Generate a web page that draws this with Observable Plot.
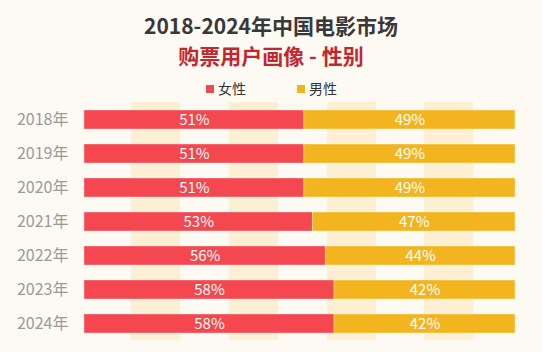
<!DOCTYPE html>
<html>
<head>
<meta charset="utf-8">
<script src="https://cdn.jsdelivr.net/npm/d3@7"></script>
<script src="https://cdn.jsdelivr.net/npm/@observablehq/plot@0.6"></script>
<style>
  html, body { margin: 0; padding: 0; background: #fdfaf3; }
  #wrap { width: 542px; height: 352px; position: relative; font-family: "Noto Sans CJK SC", "Noto Sans", sans-serif; overflow: hidden; }
  #header { height: 96px; position: relative; }
  .title { position: absolute; left: 0; width: 542px; text-align: center; top: 10px; font-size: 21px; font-weight: bold; color: #383838; line-height: 30px; }
  .subtitle { position: absolute; left: 0; width: 542px; text-align: center; top: 40px; font-size: 21px; font-weight: bold; color: #c3272d; line-height: 30px; }
  .legend { position: absolute; top: 78px; left: 0; width: 542px; font-size: 14px; color: #333; line-height: 20px; }
  .legend span.item { position: absolute; top: 0; }
  .legend i { display: inline-block; width: 8px; height: 8px; margin-right: 4px; vertical-align: 1px; }
  svg { display: block; }
</style>
</head>
<body>
<div id="wrap">
  <div id="header">
    <div class="title">2018-2024年中国电影市场</div>
    <div class="subtitle">购票用户画像 - 性别</div>
    <div class="legend" id="legend"></div>
  </div>
  <div id="chart"></div>
</div>
<script>
const years = ["2018年", "2019年", "2020年", "2021年", "2022年", "2023年", "2024年"];
const female = [51, 51, 51, 53, 56, 58, 58];
const male = [49, 49, 49, 47, 44, 42, 42];
const seriesNames = ["女性", "男性"];
const seriesColors = ["#f5474f", "#f2b51f"];
const bandStarts = [10.9, 33.6, 56.4, 78.9];
const bandEnds = [22.3, 45.0, 67.7, 90.3];

const data = [];
years.forEach((y, i) => {
  data.push({year: y, sex: seriesNames[0], value: female[i]});
  data.push({year: y, sex: seriesNames[1], value: male[i]});
});
const bands = bandStarts.map((s, i) => ({x1: s, x2: bandEnds[i]}));

// legend
const legend = document.getElementById("legend");
const legendX = [206, 297];
seriesNames.forEach((n, i) => {
  const s = document.createElement("span");
  s.className = "item";
  s.style.left = legendX[i] + "px";
  s.innerHTML = `<i style="background:${seriesColors[i]}"></i>${n}`;
  legend.appendChild(s);
});

const chart = Plot.plot({
  width: 542,
  height: 256,
  marginTop: 6,
  marginBottom: 12,
  marginLeft: 84,
  marginRight: 27,
  style: {background: "transparent", fontFamily: "'Noto Sans CJK SC', sans-serif"},
  x: {domain: [0, 100], axis: null},
  y: {domain: years, paddingInner: 0.45, paddingOuter: 0.19, label: null},
  color: {domain: seriesNames, range: seriesColors},
  marks: [
    Plot.rect(bands, {x1: "x1", x2: "x2", fill: "#fdefd3"}),
    Plot.barX(data, Plot.stackX({x: "value", y: "year", fill: "sex", order: seriesNames, stroke: "#ffffff", strokeOpacity: 0.35, strokeWidth: 1})),
    Plot.text(data, Plot.stackX({x: "value", y: "year", z: "sex", order: seriesNames, text: d => d.value + "%", fill: "#ffffff", fontSize: 15})),
    Plot.axisY({tickSize: 0, tickPadding: 16, fontSize: 16, color: "#9a9a9a", label: null})
  ]
});
document.getElementById("chart").appendChild(chart);
</script>
</body>
</html>
